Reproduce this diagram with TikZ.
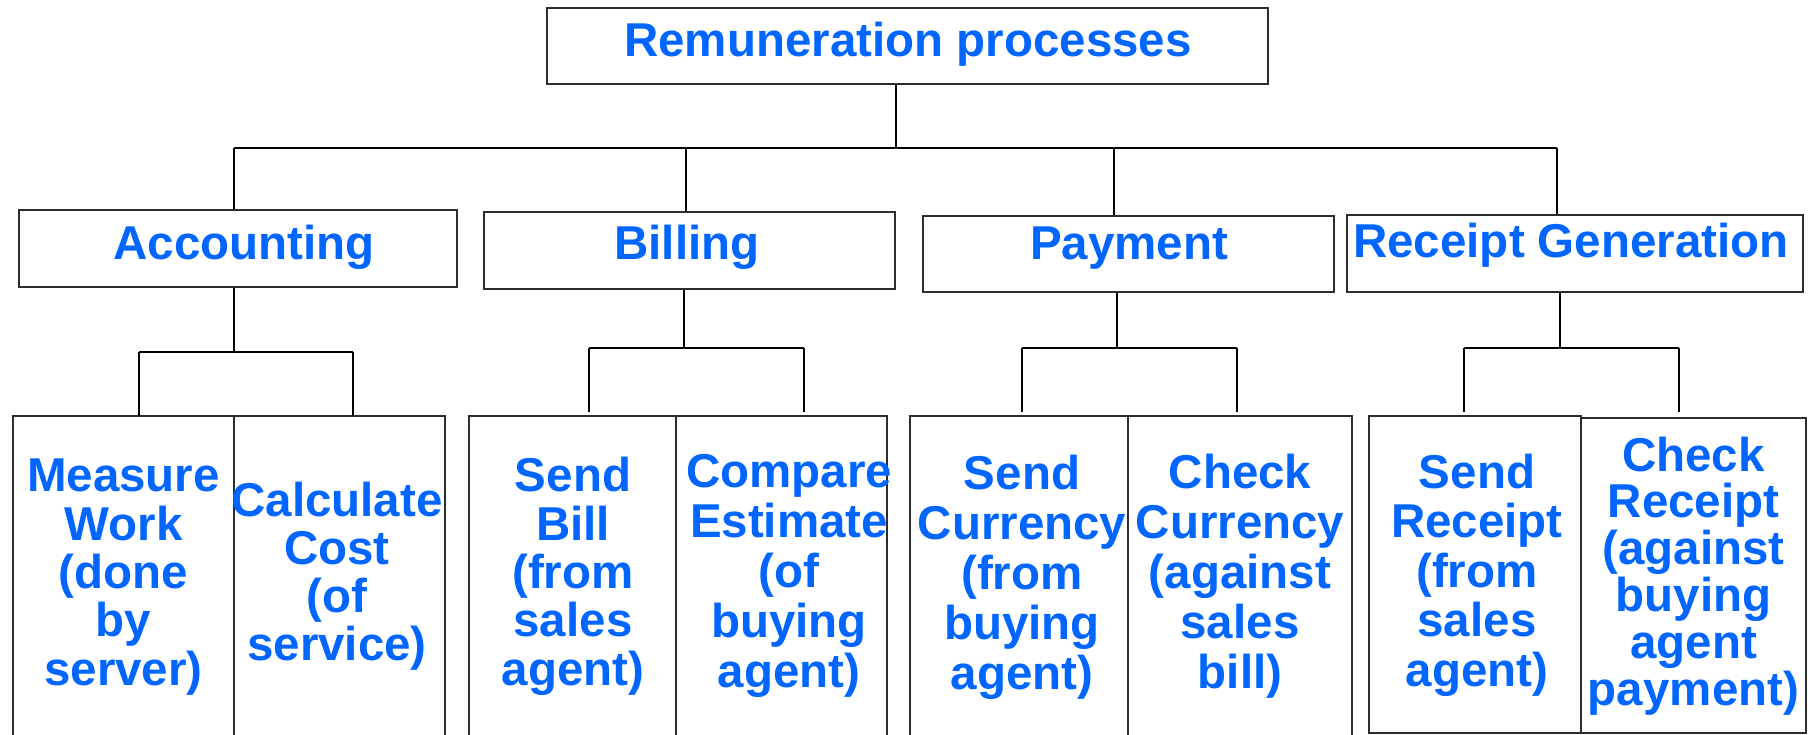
\documentclass[tikz,border=0pt]{standalone}
\usepackage{fontspec}
\setmainfont{Liberation Sans}
\definecolor{procblue}{RGB}{0,102,255}
\definecolor{frame}{RGB}{45,45,45}
\tikzset{
  box/.style={draw=frame, line width=2pt, inner sep=0pt},
  cell/.style={inner sep=0pt},
  conn/.style={draw=black, line width=1.5pt},
  lbl/.style={text=procblue, inner sep=0pt, align=center,
    font=\bfseries\fontsize{47.5}{48.3}\selectfont},
}
\begin{document}
\begin{tikzpicture}[x=1pt, y=-1pt]
\useasboundingbox (0,0) rectangle (1808,735);
\fill[white] (0,0) rectangle (1808,735);

% ---- top level ----
\node[box, minimum width=721, minimum height=76] (rem) at (907.5,46) {};
\node[lbl, anchor=base] (remT) at (908,56.7) {Remuneration processes};

% ---- second level ----
\node[box, minimum width=438, minimum height=77] (acc) at (238,248.5) {};
\node[box, minimum width=411, minimum height=77] (bil) at (689.5,250.5) {};
\node[box, minimum width=411, minimum height=76] (pay) at (1128.5,254) {};
\node[box, minimum width=456, minimum height=77] (rec) at (1575,253.5) {};
\node[lbl, anchor=base] (accT) at (244,260) {Accounting};
\node[lbl, anchor=base] (bilT) at (687,260) {Billing};
\node[lbl, anchor=base] (payT) at (1129,260) {Payment};
\node[lbl, anchor=base] (recT) at (1571,258) {Receipt Generation};

% ---- third level cells ----
\node[cell, minimum width=221, minimum height=319] (c1) at (123.5,575.5) {};
\node[cell, minimum width=211, minimum height=319] (c2) at (339.5,575.5) {};
\node[cell, minimum width=207, minimum height=319] (c3) at (572.5,575.5) {};
\node[cell, minimum width=211, minimum height=319] (c4) at (781.5,575.5) {};
\node[cell, minimum width=218, minimum height=319] (c5) at (1019,575.5) {};
\node[cell, minimum width=224, minimum height=319] (c6) at (1240,575.5) {};
\node[box, minimum width=212, minimum height=317] (c7) at (1475,574.5) {};
\node[box, minimum width=225, minimum height=315] (c8) at (1693.5,575.5) {};
\foreach \c in {c1,c2,c3,c4,c5,c6}
  \draw[draw=frame, line width=2pt] (\c.south west) |- (\c.north east) -- (\c.south east);

% texts are anchored on the baseline of their last line
\node[lbl, anchor=base] (t1) at (123.5,685) {Measure\\Work\\(done\\by\\server)};
\node[lbl, anchor=base, font=\bfseries\fontsize{47.5}{47.7}\selectfont] (t2) at (337,660) {Calculate\\Cost\\(of\\service)};
\node[lbl, anchor=base] (t3) at (573,685) {Send\\Bill\\(from\\sales\\agent)};
\node[lbl, anchor=base, font=\bfseries\fontsize{47.5}{50}\selectfont] (t4) at (789,687) {Compare\\Estimate\\(of\\buying\\agent)};
\node[lbl, anchor=base, font=\bfseries\fontsize{47.5}{50}\selectfont] (t5) at (1022,689) {Send\\Currency\\(from\\buying\\agent)};
\node[lbl, anchor=base, font=\bfseries\fontsize{47.5}{50}\selectfont] (t6) at (1240,688) {Check\\Currency\\(against\\sales\\bill)};
\node[lbl, anchor=base, font=\bfseries\fontsize{47.5}{49.5}\selectfont] (t7) at (1477,686) {Send\\Receipt\\(from\\sales\\agent)};
\node[lbl, anchor=base, font=\bfseries\fontsize{47.5}{46.8}\selectfont] (t8) at (1693.5,705) {Check\\Receipt\\(against\\buying\\agent\\payment)};

% ---- connectors: top to second level ----
\coordinate (busA) at (234,148);
\coordinate (busB) at (686,148);
\coordinate (busP) at (1114,148);
\coordinate (busR) at (1557,148);
\coordinate (remJ) at (896,148);
\draw[conn] (rem.south -| remJ) -- (remJ);
\draw[conn] (busA) -- (busR);
\foreach \n/\b in {acc/busA, bil/busB, pay/busP, rec/busR}
  \draw[conn] (\b) -- (\b |- \n.north);

% ---- connectors: second to third level ----
\coordinate (accJ) at (234,352);
\coordinate (accL) at (139,352);
\coordinate (accR) at (353,352);
\draw[conn] (acc.south -| accJ) -- (accJ);
\draw[conn] (accL) -- (accR);
\draw[conn] (accL) -- (accL |- c1.north);
\draw[conn] (accR) -- (accR |- c2.north);

\coordinate (bilJ) at (684,348);
\coordinate (bilL) at (589,348);
\coordinate (bilR) at (804,348);
\coordinate (bilLe) at (589,412);
\coordinate (bilRe) at (804,412);
\draw[conn] (bil.south -| bilJ) -- (bilJ);
\draw[conn] (bilL) -- (bilR);
\draw[conn] (bilL) -- (bilLe);
\draw[conn] (bilR) -- (bilRe);

\coordinate (payJ) at (1117,348);
\coordinate (payL) at (1022,348);
\coordinate (payR) at (1237,348);
\coordinate (payLe) at (1022,412);
\coordinate (payRe) at (1237,412);
\draw[conn] (pay.south -| payJ) -- (payJ);
\draw[conn] (payL) -- (payR);
\draw[conn] (payL) -- (payLe);
\draw[conn] (payR) -- (payRe);

\coordinate (recJ) at (1560,348);
\coordinate (recL) at (1464,348);
\coordinate (recR) at (1679,348);
\coordinate (recLe) at (1464,412);
\coordinate (recRe) at (1679,412);
\draw[conn] (rec.south -| recJ) -- (recJ);
\draw[conn] (recL) -- (recR);
\draw[conn] (recL) -- (recLe);
\draw[conn] (recR) -- (recRe);
\end{tikzpicture}
\end{document}
